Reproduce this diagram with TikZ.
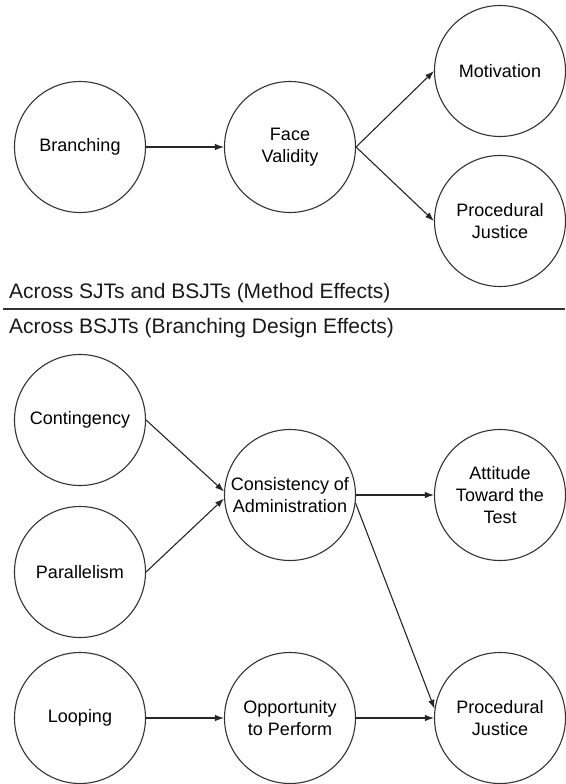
\documentclass[tikz,border=0pt]{standalone}
\usepackage{fontspec}
\setmainfont{Liberation Sans}
\usetikzlibrary{arrows.meta}

\begin{document}
\begin{tikzpicture}[x=1pt, y=-1pt,
    factor/.style={circle, draw=black!80, line width=1.1pt, minimum size=131pt, inner sep=0pt, align=center, font=\fontsize{18}{22}\selectfont},
    effect/.style={-{Latex[length=9pt,width=6.5pt]}, line width=1.1pt, draw=black!85},
    heading/.style={anchor=west, inner sep=0pt, text=black!90, font=\fontsize{21}{25}\selectfont}]
    \useasboundingbox (0,0) rectangle (565,784);

    % method effects
    \node[factor] (branching) at (80,147) {Branching};
    \node[factor] (face) at (290,147) {Face\\Validity};
    \node[factor] (motivation) at (500,71) {Motivation};
    \node[factor] (justiceA) at (500,221) {Procedural\\Justice};
    \draw[effect] (branching) -- (face);
    \draw[effect] (face.east) -- (motivation.west);
    \draw[effect] (face.east) -- (justiceA.west);

    \node[heading] (methodhead) at (9,293) {Across SJTs and BSJTs (Method Effects)};
    \coordinate (ruleL) at (3,309);
    \coordinate (ruleR) at (565,309);
    \draw[line width=2pt, black!80] (ruleL) -- (ruleR);
    \node[heading] (designhead) at (9,328) {Across BSJTs (Branching Design Effects)};

    % branching design effects
    \node[factor] (contingency) at (80,420) {Contingency};
    \node[factor] (parallelism) at (80,572) {Parallelism};
    \node[factor] (consistency) at (290,495) {Consistency of\\Administration};
    \node[factor] (attitude) at (500,495) {Attitude\\Toward the\\Test};
    \node[factor] (looping) at (80,718) {Looping};
    \node[factor] (opportunity) at (290,718) {Opportunity\\to Perform};
    \node[factor] (justiceB) at (500,718) {Procedural\\Justice};
    \draw[effect] (contingency.east) -- (consistency.177);
    \draw[effect] (parallelism.east) -- (consistency.183);
    \draw[effect] (consistency) -- (attitude);
    \draw[effect] (consistency.353) -- (justiceB.172);
    \draw[effect] (looping) -- (opportunity);
    \draw[effect] (opportunity) -- (justiceB);
\end{tikzpicture}
\end{document}
